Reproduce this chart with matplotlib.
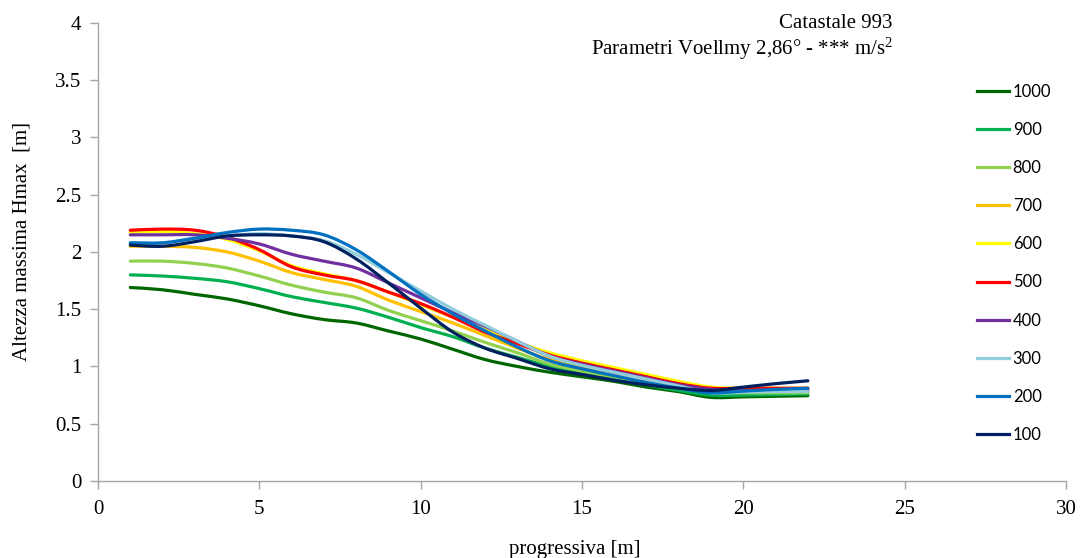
import numpy as np
import matplotlib
matplotlib.use("Agg")
import matplotlib.pyplot as plt
from matplotlib.path import Path
from matplotlib.patches import PathPatch
from matplotlib.lines import Line2D

plt.rcParams["font.family"] = ["Liberation Serif", "DejaVu Serif"]
plt.rcParams["mathtext.fontset"] = "custom"
plt.rcParams["mathtext.rm"] = "Liberation Serif"
plt.rcParams["mathtext.it"] = "Liberation Serif:italic"

# progressiva [m]
progressiva = list(range(1, 23))

# Altezza massima Hmax [m] per series
series_labels = ["1000", "900", "800", "700", "600", "500", "400", "300", "200", "100"]
h_1000 = [1.69, 1.67, 1.63, 1.59, 1.53, 1.46, 1.41, 1.38, 1.31, 1.24, 1.15, 1.06,
          1.00, 0.95, 0.91, 0.87, 0.82, 0.78, 0.73, 0.735, 0.74, 0.745]
h_900 = [1.80, 1.79, 1.77, 1.74, 1.68, 1.61, 1.56, 1.51, 1.43, 1.34, 1.26, 1.16,
         1.08, 1.00, 0.94, 0.89, 0.84, 0.79, 0.75, 0.75, 0.755, 0.76]
h_800 = [1.92, 1.92, 1.90, 1.86, 1.79, 1.71, 1.65, 1.60, 1.49, 1.40, 1.31, 1.21,
         1.12, 1.02, 0.96, 0.91, 0.86, 0.81, 0.775, 0.77, 0.77, 0.77]
h_700 = [2.05, 2.05, 2.04, 2.00, 1.92, 1.82, 1.76, 1.70, 1.58, 1.48, 1.38, 1.27,
         1.16, 1.06, 1.00, 0.95, 0.89, 0.84, 0.80, 0.79, 0.79, 0.79]
h_600 = [2.17, 2.18, 2.16, 2.11, 2.01, 1.88, 1.81, 1.75, 1.65, 1.54, 1.43, 1.32,
         1.21, 1.12, 1.05, 0.99, 0.93, 0.87, 0.82, 0.81, 0.81, 0.81]
h_500 = [2.19, 2.20, 2.19, 2.13, 2.02, 1.87, 1.80, 1.75, 1.65, 1.55, 1.43, 1.30,
         1.20, 1.10, 1.03, 0.97, 0.91, 0.85, 0.81, 0.81, 0.81, 0.81]
h_400 = [2.15, 2.15, 2.15, 2.12, 2.07, 1.98, 1.92, 1.86, 1.73, 1.60, 1.47, 1.35,
         1.22, 1.09, 1.02, 0.96, 0.90, 0.84, 0.80, 0.79, 0.79, 0.79]
h_300 = [2.08, 2.08, 2.12, 2.14, 2.16, 2.14, 2.10, 1.98, 1.82, 1.66, 1.50, 1.36,
         1.22, 1.09, 1.01, 0.95, 0.89, 0.83, 0.77, 0.775, 0.78, 0.78]
h_200 = [2.08, 2.08, 2.12, 2.17, 2.20, 2.19, 2.15, 2.02, 1.83, 1.63, 1.46, 1.31,
         1.17, 1.05, 0.98, 0.92, 0.86, 0.81, 0.77, 0.785, 0.80, 0.81]
h_100 = [2.06, 2.05, 2.09, 2.14, 2.15, 2.14, 2.09, 1.94, 1.73, 1.51, 1.30, 1.16,
         1.07, 0.98, 0.93, 0.88, 0.84, 0.81, 0.79, 0.82, 0.85, 0.875]

series_values = [h_1000, h_900, h_800, h_700, h_600, h_500, h_400, h_300, h_200, h_100]
series_colors = ["#006600", "#00B050", "#92D050", "#FFC000", "#FFFF00",
                 "#FF0000", "#7030A0", "#92CDDC", "#0070C0", "#002060"]

x_ticks = [0, 5, 10, 15, 20, 25, 30]
y_ticks = [0, 0.5, 1, 1.5, 2, 2.5, 3, 3.5, 4]
y_tick_labels = ["0", "0.5", "1", "1.5", "2", "2.5", "3", "3.5", "4"]


def smooth_path(xs, ys, tension=1.0 / 6.0):
    """Cubic Bezier path through the points (smoothed line style)."""
    xs = np.asarray(xs, float)
    ys = np.asarray(ys, float)
    n = len(xs)
    verts = [(xs[0], ys[0])]
    codes = [Path.MOVETO]
    for i in range(n - 1):
        i0 = max(i - 1, 0)
        i3 = min(i + 2, n - 1)
        c1 = (xs[i] + (xs[i + 1] - xs[i0]) * tension,
              ys[i] + (ys[i + 1] - ys[i0]) * tension)
        c2 = (xs[i + 1] - (xs[i3] - xs[i]) * tension,
              ys[i + 1] - (ys[i3] - ys[i]) * tension)
        verts += [c1, c2, (xs[i + 1], ys[i + 1])]
        codes += [Path.CURVE4] * 3
    return Path(verts, codes)


fig = plt.figure(figsize=(10.82, 5.58), dpi=100)
ax = fig.add_axes([0.0906, 0.138, 0.8946, 0.8208])

lw = 2.3
handles = []
for vals, col, lab in zip(series_values, series_colors, series_labels):
    patch = PathPatch(smooth_path(progressiva, vals), facecolor="none",
                      edgecolor=col, lw=lw, capstyle="round", joinstyle="round")
    ax.add_patch(patch)
    handles.append(Line2D([], [], color=col, lw=lw, label=lab))

ax.set_xlim(0, 30)
ax.set_ylim(0, 4)
ax.set_xticks(x_ticks)
ax.set_yticks(y_ticks)
ax.set_yticklabels(y_tick_labels)

for side in ["top", "right"]:
    ax.spines[side].set_visible(False)
for side in ["left", "bottom"]:
    ax.spines[side].set_color("#A6A6A6")
    ax.spines[side].set_linewidth(1.0)
ax.tick_params(axis="both", direction="out", length=6, width=1.0,
               color="#A6A6A6", labelsize=15, labelcolor="black")
ax.tick_params(axis="x", pad=8)
ax.tick_params(axis="y", pad=6)

ax.set_xlabel("progressiva [m]", fontsize=15, labelpad=15)
ax.set_ylabel("Altezza massima Hmax  [m]", fontsize=15, labelpad=17)
ax.xaxis.label.set_x(0.493)
ax.yaxis.label.set_y(0.522)

fig.text(0.8245, 0.957, "Catastale 993", ha="right", va="center", fontsize=15)
fig.text(0.8255, 0.913, "Parametri Voellmy 2,86° - *** m/s$^{2}$",
         ha="right", va="center", fontsize=15)

leg = fig.legend(handles=handles, loc="upper left",
                 bbox_to_anchor=(0.889, 0.877), frameon=False,
                 handlelength=1.95, handletextpad=0.2, labelspacing=1.33,
                 prop={"family": ["Lato", "DejaVu Sans"], "size": 12})

fig.savefig("out.png", dpi=100)
